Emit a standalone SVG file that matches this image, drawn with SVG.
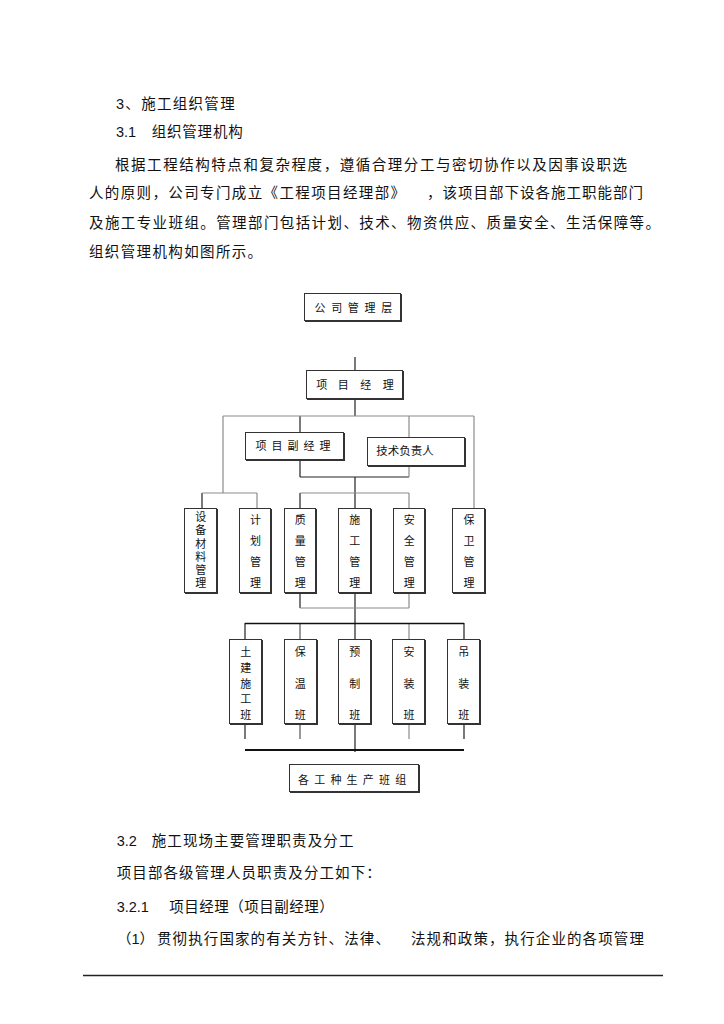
<svg xmlns="http://www.w3.org/2000/svg" width="724" height="1024" viewBox="0 0 724 1024">
<style>
.t{font-family:"Liberation Sans","Noto Sans CJK SC",sans-serif;font-size:14.5px;fill:#111}
.l{font-family:"Liberation Sans","Noto Sans CJK SC",sans-serif;font-size:11px;fill:#111;text-anchor:middle}
.box{fill:#fff;stroke:#333;stroke-width:1}
.sh{fill:#333}
.dk{stroke:#222;stroke-width:1.2;fill:none}
.md{stroke:#555;stroke-width:1.2;fill:none}
.gr{stroke:#8c8c8c;stroke-width:1.2;fill:none}
</style>
<rect width="724" height="1024" fill="#fff"/>
<g id="text">
<text class="t" x="116" y="109" letter-spacing="1.3">3、施工组织管理</text>
<text class="t" x="116" y="137">3.1</text>
<text class="t" x="151.7" y="137" letter-spacing="0.8">组织管理机构</text>
<text class="t" x="115" y="169.5" textLength="512" lengthAdjust="spacing">根据工程结构特点和复杂程度，遵循合理分工与密切协作以及因事设职选</text>
<text class="t" x="89" y="198" textLength="316" lengthAdjust="spacing">人的原则，公司专门成立《工程项目经理部》</text>
<text class="t" x="427" y="198" textLength="216" lengthAdjust="spacing">，该项目部下设各施工职能部门</text>
<text class="t" x="89" y="227.5" textLength="571" lengthAdjust="spacing">及施工专业班组。管理部门包括计划、技术、物资供应、质量安全、生活保障等。</text>
<text class="t" x="89" y="256.5" letter-spacing="1.36">组织管理机构如图所示。</text>
<text class="t" x="116.7" y="846">3.2</text>
<text class="t" x="151.7" y="846" letter-spacing="1.1">施工现场主要管理职责及分工</text>
<text class="t" x="116.7" y="878" letter-spacing="1.1">项目部各级管理人员职责及分工如下：</text>
<text class="t" x="116.7" y="912">3.2.1</text>
<text class="t" x="169.3" y="912" letter-spacing="0.5">项目经理（项目副经理）</text>
<text class="t" x="117" y="944">（1）</text>
<text class="t" x="157" y="944" letter-spacing="1.1">贯彻执行国家的有关方针、法律、</text>
<text class="t" x="411" y="944" letter-spacing="1.1">法规和政策，执行企业的各项管理</text>
<line x1="83" y1="975.5" x2="663" y2="975.5" stroke="#222" stroke-width="1.5"/>
</g>
<g id="connectors">
<path class="dk" d="M355 357V370M355 399V416M300 416V432M300 460V477M300 477H409M355 477V508M202 493V508M300 493V508M355 593V623M300 593V608M245 623V639M355 623V639M464 623V639M245 724V739M464 724V739M355 724V752"/>
<path class="gr" d="M223 416H474M223 416V493M202 493H257M257 493V508M474 416V508M409 416V437M409 466V477M300 493H409M409 493V508M300 608H409M409 593V608M409 623V639M409 724V739"/>
<path class="md" d="M300 623V639M300 724V739"/>
<path d="M245 623.5H464" stroke="#111" stroke-width="1.6"/>
<path d="M245 750H464" stroke="#111" stroke-width="2.2"/>
</g>
<g id="n-company">
<rect class="sh" x="305" y="294" width="97" height="28"/>
<rect class="box" x="304.5" y="293.5" width="96" height="27"/>
<text class="l" x="320 336.7 353.3 370 386.7" y="311.5">公司管理层</text>
</g>
<g id="n-pm">
<rect class="sh" x="307" y="371" width="97" height="29"/>
<rect class="box" x="306.5" y="370.5" width="96" height="28"/>
<text class="l" x="321.7 343.3 365.7 388.3" y="388.5">项目经理</text>
</g>
<g id="n-dpm">
<rect class="sh" x="246" y="433" width="99" height="28"/>
<rect class="box" x="245.5" y="432.5" width="98" height="27"/>
<text class="l" x="261 277 293 309 325" y="450">项目副经理</text>
</g>
<g id="n-tech">
<rect class="sh" x="368" y="438" width="98" height="29"/>
<rect class="box" x="367.5" y="437.5" width="97" height="28"/>
<text class="l" x="405" y="455.3" style="font-size:11.5px">技术负责人</text>
</g>
<g id="n-equip">
<rect class="sh" x="185" y="509" width="33" height="85"/>
<rect class="box" x="184.5" y="508.5" width="32" height="84"/>
<text class="l" x="200.8" y="521.2">设</text><text class="l" x="200.8" y="534.4">备</text><text class="l" x="200.8" y="547.6">材</text><text class="l" x="200.8" y="560.8">料</text><text class="l" x="200.8" y="574">管</text><text class="l" x="200.8" y="587.2">理</text>
</g>
<g id="n-plan">
<rect class="sh" x="240" y="509" width="32" height="85"/>
<rect class="box" x="239.5" y="508.5" width="31" height="84"/>
<text class="l" x="255.5" y="523.5">计</text><text class="l" x="255.5" y="544.6">划</text><text class="l" x="255.5" y="565.7">管</text><text class="l" x="255.5" y="586.8">理</text>
</g>
<g id="n-quality">
<rect class="sh" x="285" y="509" width="32" height="85"/>
<rect class="box" x="284.5" y="508.5" width="31" height="84"/>
<text class="l" x="300.2" y="523.5">质</text><text class="l" x="300.2" y="544.6">量</text><text class="l" x="300.2" y="565.7">管</text><text class="l" x="300.2" y="586.8">理</text>
</g>
<g id="n-construct">
<rect class="sh" x="339" y="509" width="33" height="85"/>
<rect class="box" x="338.5" y="508.5" width="32" height="84"/>
<text class="l" x="354.7" y="523.5">施</text><text class="l" x="354.7" y="544.6">工</text><text class="l" x="354.7" y="565.7">管</text><text class="l" x="354.7" y="586.8">理</text>
</g>
<g id="n-safety">
<rect class="sh" x="394" y="509" width="32" height="85"/>
<rect class="box" x="393.5" y="508.5" width="31" height="84"/>
<text class="l" x="409.2" y="523.5">安</text><text class="l" x="409.2" y="544.6">全</text><text class="l" x="409.2" y="565.7">管</text><text class="l" x="409.2" y="586.8">理</text>
</g>
<g id="n-security">
<rect class="sh" x="453" y="509" width="33" height="85"/>
<rect class="box" x="452.5" y="508.5" width="32" height="84"/>
<text class="l" x="469" y="523.5">保</text><text class="l" x="469" y="544.6">卫</text><text class="l" x="469" y="565.7">管</text><text class="l" x="469" y="586.8">理</text>
</g>
<g id="n-civil">
<rect class="sh" x="230" y="640" width="33" height="85"/>
<rect class="box" x="229.5" y="639.5" width="32" height="84"/>
<text class="l" x="245.7" y="655.9">土</text><text class="l" x="245.7" y="671.7">建</text><text class="l" x="245.7" y="687.5">施</text><text class="l" x="245.7" y="703.3">工</text><text class="l" x="245.7" y="719.2">班</text>
</g>
<g id="n-insul">
<rect class="sh" x="285" y="640" width="33" height="85"/>
<rect class="box" x="284.5" y="639.5" width="32" height="84"/>
<text class="l" x="300.2" y="655.9">保</text><text class="l" x="300.2" y="687.5">温</text><text class="l" x="300.2" y="719.2">班</text>
</g>
<g id="n-prefab">
<rect class="sh" x="339" y="640" width="33" height="85"/>
<rect class="box" x="338.5" y="639.5" width="32" height="84"/>
<text class="l" x="354.8" y="655.9">预</text><text class="l" x="354.8" y="687.5">制</text><text class="l" x="354.8" y="719.2">班</text>
</g>
<g id="n-install">
<rect class="sh" x="393" y="640" width="33" height="85"/>
<rect class="box" x="392.5" y="639.5" width="32" height="84"/>
<text class="l" x="409" y="655.9">安</text><text class="l" x="409" y="687.5">装</text><text class="l" x="409" y="719.2">班</text>
</g>
<g id="n-hoist">
<rect class="sh" x="448" y="640" width="33" height="85"/>
<rect class="box" x="447.5" y="639.5" width="32" height="84"/>
<text class="l" x="463.7" y="655.9">吊</text><text class="l" x="463.7" y="687.5">装</text><text class="l" x="463.7" y="719.2">班</text>
</g>
<g id="n-teams">
<rect class="sh" x="290" y="765" width="130" height="28"/>
<rect class="box" x="289.5" y="764.5" width="129" height="27"/>
<text class="l" x="303.5 319.7 335.9 352.1 368.3 384.5 400.7" y="784.2">各工种生产班组</text>
</g>
</svg>
